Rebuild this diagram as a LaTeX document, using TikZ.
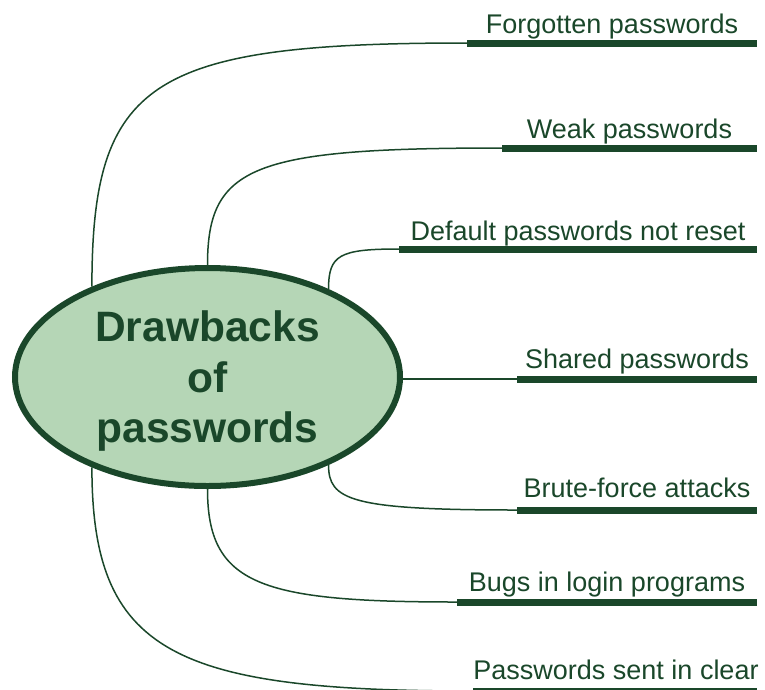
\documentclass[tikz,border=0pt]{standalone}
\usepackage{fontspec}
\setmainfont{Liberation Sans}
\usetikzlibrary{shapes.geometric}
\definecolor{dkg}{RGB}{26,71,42}
\definecolor{lgf}{RGB}{181,214,182}
\begin{document}
\begin{tikzpicture}[x=1pt,y=-1pt,
  conn/.style={draw=dkg,line width=1.5pt},
  uline/.style={draw=dkg,line width=7pt},
  lbl/.style={anchor=base,text=dkg,font=\fontsize{27}{31}\selectfont,inner sep=0pt}]
\useasboundingbox (0,0) rectangle (765,689);
\clip (0,0) rectangle (765,689);
% centre
\node[ellipse,draw=dkg,fill=lgf,line width=6pt,minimum width=385pt,minimum height=218pt,
      inner sep=0pt,align=center,text=dkg,text depth=0pt,
      font=\bfseries\fontsize{42.5}{50.5}\selectfont] (E) at (207.5,377) {Drawbacks\\of\\passwords};
% branch end points
\coordinate (s1) at (467,43);  \coordinate (e1) at (757,43);
\coordinate (s2) at (502,148); \coordinate (e2) at (757,148);
\coordinate (s3) at (399,249); \coordinate (e3) at (757,249);
\coordinate (s4) at (517,379); \coordinate (e4) at (757,379);
\coordinate (s5) at (517,510); \coordinate (e5) at (757,510);
\coordinate (s6) at (457,602); \coordinate (e6) at (757,602);
\coordinate (s7) at (473,691); \coordinate (e7) at (757,691);
% labels
\node[lbl] (t1) at (612,33)    {Forgotten passwords};
\node[lbl] (t2) at (629.5,138) {Weak passwords};
\node[lbl] (t3) at (578,240)   {Default passwords not reset};
\node[lbl] (t4) at (637,368)   {Shared passwords};
\node[lbl] (t5) at (637,497)   {Brute-force attacks};
\node[lbl] (t6) at (607,591)   {Bugs in login programs};
\node[lbl] (t7) at (616,679)   {Passwords sent in clear};
% underlines
\foreach \i in {1,...,7} {\draw[uline] (s\i) -- (e\i);}
% connectors
\draw[conn] (E.142) .. controls +(0,-206) and +(-317,0) .. (s1);
\draw[conn] (E.north) .. controls +(0,-99) and +(-250,0) .. (s2);
\draw[conn] (E.36) .. controls +(0,-34) and +(-60,0) .. (s3);
\draw[conn] (s4 -| E.east) -- (s4);
\draw[conn] (E.-36) .. controls +(0,35) and +(-167,0) .. (s5);
\draw[conn] (E.south) .. controls +(0,96) and +(-197,0) .. (s6);
\draw[conn] (E.218) .. controls +(0,185) and +(-300,0) .. (s7);
\end{tikzpicture}
\end{document}
